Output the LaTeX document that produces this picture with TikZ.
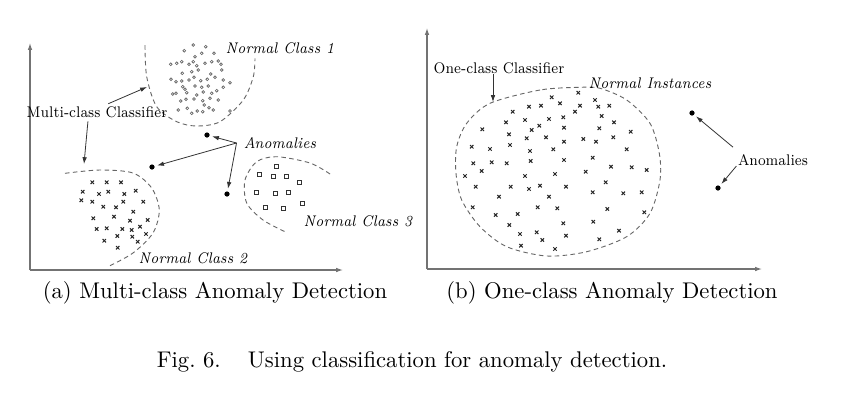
\documentclass[tikz,border=0pt]{standalone}
\usepackage{graphicx}
\usetikzlibrary{arrows.meta}

\newcommand{\narrowtxt}[1]{\scalebox{0.88}[1]{#1}}

\tikzset{
  axis/.style={draw=black!55, line width=.5pt, -{Latex[length=3pt,width=2pt]}},
  bound/.style={draw=black!60, line width=.4pt, dash pattern=on 2pt off 1.5pt},
  arr/.style={draw=black!80, line width=.35pt, -{Latex[length=3pt,width=2pt]}},
  lbl/.style={font=\fontsize{6.8}{8}\selectfont, inner sep=0pt},
  ilbl/.style={font=\fontsize{6.8}{8}\selectfont\itshape, inner sep=0pt},
  subcap/.style={font=\fontsize{10}{12}\selectfont, inner sep=0pt},
  anom/.style={circle, fill=black, inner sep=0pt, minimum size=2.3pt},
  crossmk/.style={draw=black!85, line width=.45pt},
  circmk/.style={draw=black!60, line width=.3pt},
  sqmk/.style={draw=black!80, line width=.4pt}
}

\begin{document}
\begin{tikzpicture}[x=0.0155cm, y=-0.0155cm]
  \useasboundingbox[fill=white] (0,0) rectangle (864,406);

  % (a) multi-class
  \coordinate (O1) at (30,270);
  \coordinate (Y1) at (30,43);
  \coordinate (X1) at (343,270);
  \draw[axis] (O1) -- (Y1);
  \draw[axis] (O1) -- (X1);

  % class 1 (circles)
  \draw[bound] plot[smooth] coordinates {(145,45) (146.7,76.7) (156.7,106.7) (176.7,121.7)
    (196.7,126) (220,121.7) (243.3,100) (253.3,76.7) (255,58.3)};
  \foreach \p in {(193.3,45),(184.3,50.7),(205.7,46.7),(195,56.7),(201.7,53.3),(214,53.3),
    (170.7,64.3),(176.7,63.3),(181.7,61.7),(189,64.3),(193.3,61.7),(196.7,65.7),(205,63.3),
    (211.7,61.7),(218.3,61),(221,64.3),(182.3,73.3),(191.7,71.7),(198.3,70),(210.7,74),
    (221.7,70),(171,79.3),(176,81.7),(181.7,81),(189,80),(194,77.3),(200.7,80.7),(207.3,79.3),
    (215,77.3),(223.3,80),(230,82.7),(182.7,86.7),(185,89.3),(195,86),(201.7,87.3),(208.3,86),
    (216.7,90.7),(223.3,87.3),(172.7,94),(176,93.3),(186.7,92.7),(196.7,95),(203.3,92),
    (211.7,93.3),(180.7,101),(186,99.3),(194,99),(202.7,100.7),(210,98.3),(218.3,100),
    (178.3,110),(187.3,108.3),(191.7,113.3),(197.3,111),(202.7,111.7),(209,107.7),
    (213.3,110),(230,111),(204.3,105)}
    \draw[circmk] \p circle[radius=1.4];
  \node[ilbl] (nc1) at (280,48) {\narrowtxt{Normal Class 1}};

  % class 2 (crosses)
  \draw[bound] plot[smooth] coordinates {(65,173.3) (100,170) (133,173) (151.7,188)
    (159.3,210) (153,233) (133,253) (108,266.7)};
  \foreach \p in {(92.3,182.3),(106.7,182.3),(121,182.3),(82.7,191.7),(99,194),(108.3,191.7),
    (124.3,194),(135.7,190.7),(81.3,200.3),(92.3,201.7),(103.3,206.7),(116,207.3),
    (123.3,201.7),(143.3,201.7),(133.3,211.7),(93.3,218.3),(114,216.7),(130,220.7),
    (147.7,220),(96.7,229),(106.7,228.3),(122.3,229),(131.7,230),(140,226.7),(117.3,236),
    (104.3,240.7),(132.3,236.7),(146,234),(137.7,241.7),(117.7,247.7)}
    \draw[crossmk] \p +(-1.7,-1.7) -- +(1.7,1.7) \p +(-1.7,1.7) -- +(1.7,-1.7);
  \node[ilbl] (nc2) at (193,258) {\narrowtxt{Normal Class 2}};

  % class 3 (squares)
  \draw[bound] plot[smooth] coordinates {(330,174) (310,163) (276.7,156.7) (256.7,161.7)
    (245,180) (246.7,203) (263,220) (285,231.7)};
  \foreach \p in {(276.7,166),(259.3,174.7),(273.3,176.7),(286,176),(299,182.7),(256,192.7),
    (275,193.3),(288.7,192.3),(265,207.7),(283.3,208.3),(302.7,203.7)}
    \draw[sqmk] \p +(-2,-2) rectangle +(2,2);
  \node[ilbl] (nc3) at (358,221) {\narrowtxt{Normal Class 3}};

  % classifier
  \node[lbl] (mcc) at (97,112) {\narrowtxt{Multi-class Classifier}};
  \coordinate (mccA) at (147,87);
  \coordinate (mccB) at (84,164);
  \draw[arr] ([xshift=5pt,yshift=1pt]mcc.north) -- (mccA);
  \draw[arr] ([xshift=-4pt,yshift=-1.5pt]mcc.south) -- (mccB);

  % anomalies
  \node[ilbl] (anl) at (280,143) {\narrowtxt{Anomalies}};
  \node[anom] (a1) at (207,135) {};
  \node[anom] (a2) at (152,167) {};
  \node[anom] (a3) at (227,194) {};
  \coordinate (anlS) at ([xshift=-3pt]anl.west);
  \draw[arr, shorten >=1pt] (anlS) -- (a1);
  \draw[arr, shorten >=1pt] (anlS) -- (a2);
  \draw[arr, shorten >=1pt] (anlS) -- (a3);

  \node[subcap] (capa) at (215,293) {(a) Multi-class Anomaly Detection};

  % (b) one-class
  \coordinate (O2) at (427,269);
  \coordinate (Y2) at (427,28);
  \coordinate (X2) at (762,269);
  \draw[axis] (O2) -- (Y2);
  \draw[axis] (O2) -- (X2);

  \draw[bound] plot[smooth cycle] coordinates {(580,87.3) (540,90) (490,103.3) (466.7,123.3)
    (456.7,146.7) (456,173.3) (461.7,200) (480,226.7) (506.7,246.7) (546.7,256) (586.7,251.7)
    (626.7,236.7) (650,213.3) (660,180) (659.3,153.3) (650,123.3) (626.7,100) (600,88.3)};
  \foreach \p in {(578.3,92.7),(551.7,97.3),(560,103.3),(595,100),(580,105.7),(598.3,106.7),
    (609.3,105.7),(575,111.7),(529,106.7),(541,105.7),(512.7,111.7),(506,122.3),(525,120),
    (549,119),(563.3,117.3),(601.7,116),(614,122.3),(482.3,129.3),(509,134.3),(526.7,138.3),
    (531.7,130),(539.3,125.7),(564,127.7),(546,137.3),(564,141.7),(583.3,139),(596,141.7),
    (599.3,128.3),(613.3,137.3),(630.7,131.7),(471.7,146.7),(490,149),(510,145),(530,151),
    (553.3,149.3),(564,160),(592.7,157.7),(626.7,149.3),(473.3,163.3),(491.7,162.3),
    (481.7,171),(506.7,163.3),(530.7,161),(465,176),(525,176),(555,174),(585.7,171.7),
    (611,166.7),(631.7,167.3),(646.7,170),(475.7,186.7),(510.7,186.7),(529,189),
    (540,185.7),(566,186.7),(605.7,182.3),(592.7,192.3),(623.3,193.3),(641.7,192.3),
    (499,196.7),(549,196.7),(472.7,207.3),(495.7,215),(517.7,214),(537.7,207.3),
    (557.3,208.3),(607.3,209),(644.3,212.3),(509.3,225),(563.3,223.3),(593.3,221.7),
    (619,230.7),(520,234),(536.7,232.3),(542.3,240),(566,235.7),(599.3,239.3),
    (521,245.7),(555,249)}
    \draw[crossmk] \p +(-1.7,-1.7) -- +(1.7,1.7) \p +(-1.7,1.7) -- +(1.7,-1.7);
  \node[ilbl] (ni) at (650,83) {\narrowtxt{Normal Instances}};

  \node[lbl] (occ) at (499,68) {\narrowtxt{One-class Classifier}};
  \coordinate (occA) at (493,102);
  \draw[arr] (occ.south -| occA) -- (occA);

  \node[lbl] (anr) at (773,160) {\narrowtxt{Anomalies}};
  \node[anom] (b1) at (692,113) {};
  \node[anom] (b2) at (718,188) {};
  \draw[arr, shorten >=1pt] ([xshift=-2pt,yshift=3pt]anr.north west) -- (b1);
  \draw[arr, shorten >=1pt] ([xshift=-.5pt]anr.south west) -- (b2);

  \node[subcap] (capb) at (612,293) {(b) One-class Anomaly Detection};

  \node[subcap] (fig) at (412,362) {Fig.~6.\hspace{1.2em}Using classification for anomaly detection.};
\end{tikzpicture}
\end{document}
